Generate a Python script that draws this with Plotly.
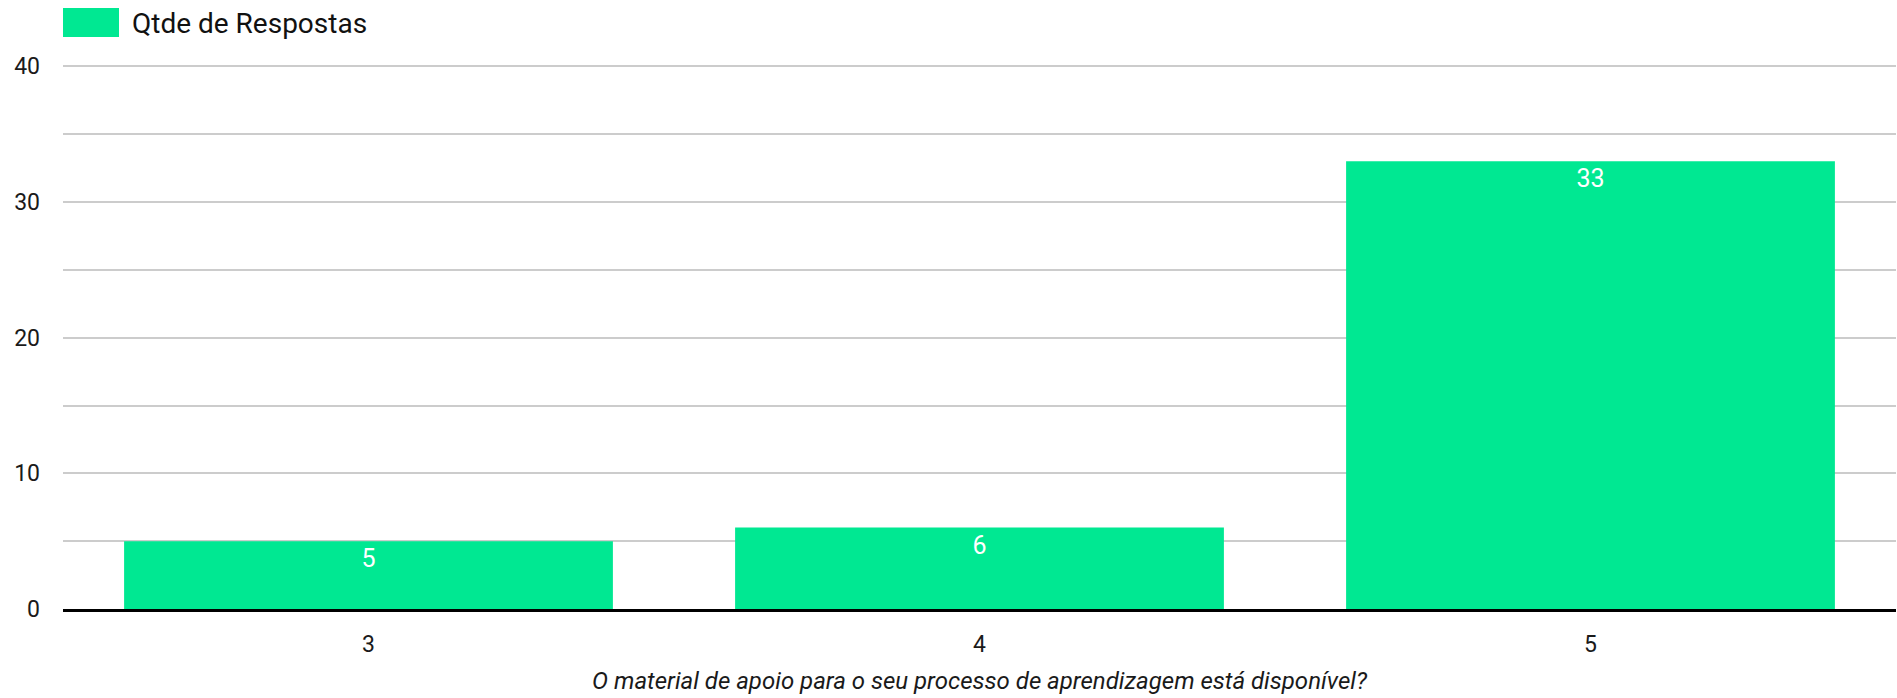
import plotly.graph_objects as go

categories = ["3", "4", "5"]
values = [5, 6, 33]
series_name = "Qtde de Respostas"
x_title = "O material de apoio para o seu processo de aprendizagem está disponível?"
y_ticks = [0, 10, 20, 30, 40]

GREEN = "#00E892"
FONT = "Roboto"
TXT = "#1a1a1a"

fig = go.Figure()
fig.add_trace(go.Bar(
    x=categories, y=values, name=series_name,
    marker=dict(color=GREEN, line=dict(width=0)),
    text=[str(v) for v in values],
    textposition="inside", insidetextanchor="end",
    textfont=dict(color="white", size=25, family=FONT),
    textangle=0, showlegend=False,
))

fig.update_layout(
    width=1897, height=698,
    margin=dict(l=63, r=1, t=65, b=89),
    plot_bgcolor="white", paper_bgcolor="white",
    bargap=0.2,
    font=dict(family=FONT, size=22, color=TXT),
)
fig.update_yaxes(
    range=[0, 40.1], tickvals=y_ticks, showgrid=True, gridcolor="#cccccc", gridwidth=2,
    minor=dict(tickvals=[5, 15, 25, 35], showgrid=True, gridcolor="#cccccc", gridwidth=2),
    zeroline=False, showline=False, ticks="", ticklabelstandoff=22, automargin=False,
    tickfont=dict(size=23, family=FONT, color=TXT),
)
fig.update_xaxes(
    showline=True, linecolor="black", linewidth=3, ticks="",
    ticklabelstandoff=12, automargin=False,
    tickfont=dict(size=23, family=FONT, color=TXT),
    title=dict(text="<i>" + x_title + "</i>", standoff=16,
               font=dict(size=24, family=FONT, color=TXT)),
)

# legend (drawn as a swatch + label)
fig.add_shape(type="rect", xref="paper", yref="paper",
              x0=0, x1=56 / 1833, y0=1 + (65 - 37) / 544, y1=1 + (65 - 8) / 544,
              fillcolor=GREEN, line=dict(width=0))
fig.add_annotation(xref="paper", yref="paper", x=67 / 1833, y=1 + (65 - 23) / 544,
                   xanchor="left", yanchor="middle", showarrow=False,
                   text=series_name, font=dict(size=28, family=FONT, color="#111111"))

fig.write_html("out.html", config={"displayModeBar": False},
               post_script="document.body.style.margin='0';document.body.style.overflow='hidden';")
